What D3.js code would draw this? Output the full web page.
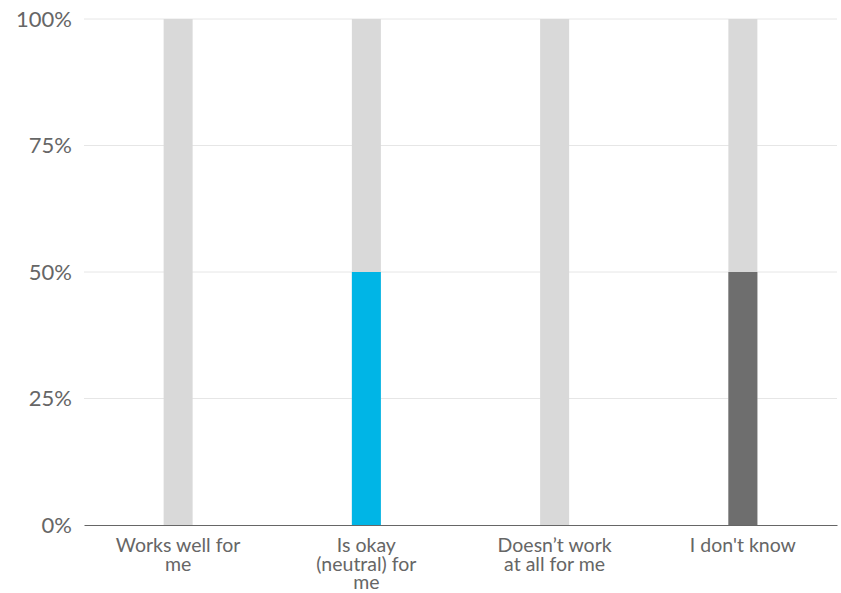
<!DOCTYPE html>
<html><head><meta charset="utf-8">
<script src="https://cdn.jsdelivr.net/npm/d3@7"></script>
<style>body{margin:0;background:#fff;} text{font-family:Lato,"Open Sans",sans-serif;}</style>
</head><body>
<svg id="chart" width="841" height="593"></svg>
<script>
const categories = ["Works well for me", "Is okay (neutral) for me", "Doesn\u2019t work at all for me", "I don't know"];
const labelLines = [["Works well for", "me"], ["Is okay", "(neutral) for", "me"], ["Doesn\u2019t work", "at all for me"], ["I don't know"]];
const values = [0, 50, 0, 50];
const backgroundValues = [100, 100, 100, 100];
const barColors = ["#00b5e6", "#00b5e6", "#00b5e6", "#6e6e6e"];
const yTicks = [0, 25, 50, 75, 100];

const svg = d3.select("#chart");
const m = {left: 84, right: 4, top: 19, bottom: 68};
const W = 841, H = 593;
const x = d3.scaleBand().domain(categories).range([m.left, W - m.right]).paddingInner(0).paddingOuter(0);
const y = d3.scaleLinear().domain([0, 100]).range([H - m.bottom, m.top]);
const bw = 29;

// gridlines
svg.append("g").selectAll("line").data(yTicks.filter(t => t > 0)).join("line")
  .attr("x1", m.left).attr("x2", W - m.right)
  .attr("y1", d => y(d)).attr("y2", d => y(d))
  .attr("stroke", "#e6e6e6").attr("stroke-width", 1);

// y labels
const yAxis = svg.append("g").attr("transform", `translate(${m.left},0)`)
  .call(d3.axisLeft(y).tickValues(yTicks).tickFormat(d => d + "%").tickSize(0).tickPadding(12));
yAxis.select(".domain").remove();
yAxis.selectAll("text").attr("font-size", 22).attr("fill", "#666").style("font-family", "Lato");

// background bars
svg.append("g").selectAll("rect").data(backgroundValues).join("rect")
  .attr("x", (d, i) => x(categories[i]) + x.bandwidth() / 2 - bw / 2)
  .attr("width", bw)
  .attr("y", d => y(d)).attr("height", d => y(0) - y(d))
  .attr("fill", "#d9d9d9");

// value bars
svg.append("g").selectAll("rect").data(values).join("rect")
  .attr("x", (d, i) => x(categories[i]) + x.bandwidth() / 2 - bw / 2)
  .attr("width", bw)
  .attr("y", d => y(d)).attr("height", d => y(0) - y(d))
  .attr("fill", (d, i) => barColors[i]);

// x axis
const xAxis = svg.append("g").attr("transform", `translate(0,${y(0)})`)
  .call(d3.axisBottom(x).tickSize(0).tickFormat(""));
xAxis.select(".domain").attr("stroke", "#666").attr("stroke-width", 1.2);
xAxis.selectAll(".tick").each(function(d, i) {
  const t = d3.select(this).append("text")
    .attr("text-anchor", "middle").attr("fill", "#666")
    .attr("font-size", 19.5).style("font-family", "Lato");
  labelLines[i].forEach((ln, j) => {
    t.append("tspan").attr("x", 0).attr("y", 27 + j * 18.5).text(ln);
  });
});
</script>
</body></html>
